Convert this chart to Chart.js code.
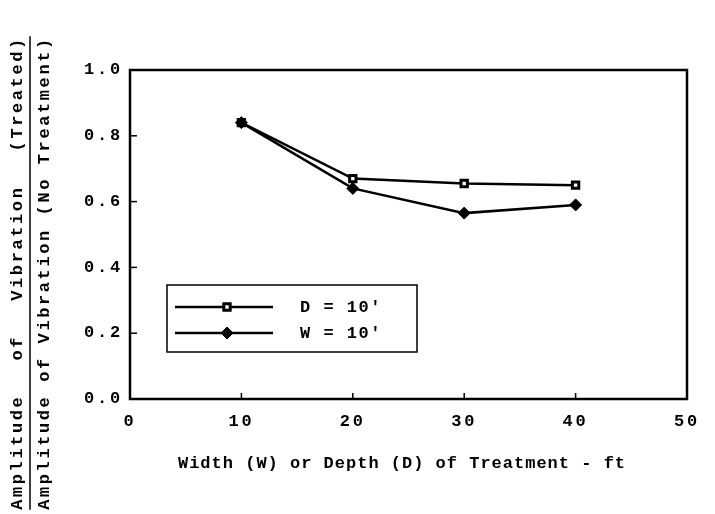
<!DOCTYPE html>
<html>
<head>
<meta charset="utf-8">
<script src="https://cdn.jsdelivr.net/npm/chart.js@4"></script>
<style>
  html, body { margin: 0; padding: 0; background: #fff; }
  .chart-container { width: 715px; height: 514px; position: relative; }
</style>
</head>
<body>
<div class="chart-container"><canvas id="chart"></canvas></div>
<script>
// values
const treatmentSize = [10, 20, 30, 40];          // width W or depth D, ft
const depthFixed = [0.84, 0.67, 0.655, 0.65];    // D = 10'
const widthFixed = [0.84, 0.64, 0.565, 0.59];    // W = 10'
const seriesLabels = ["D = 10'", "W = 10'"];
const xTitle = "Width (W) or Depth (D) of Treatment - ft";
const yTitleTop = ["Amplitude", "of", "Vibration", "(Treated)"];
const yTitleBottom = "Amplitude of Vibration (No Treatment)";

const FONT = "'Liberation Mono', 'DejaVu Sans Mono', monospace";
Chart.defaults.font.family = FONT;
Chart.defaults.color = "#000";

const toPoints = (vals) => treatmentSize.map((x, i) => ({ x: x, y: vals[i] }));

const paperPlugin = {
  id: "paper",
  beforeDraw(chart) {
    chart.ctx.letterSpacing = "2.8px";
  },
  afterDraw(chart) {
    const ctx = chart.ctx;
    const area = chart.chartArea;
    const xs = chart.scales.x;
    const ys = chart.scales.y;
    ctx.save();
    ctx.letterSpacing = "0px";
    ctx.strokeStyle = "#000";

    // frame
    ctx.lineWidth = 2.5;
    ctx.strokeRect(area.left, area.top, area.right - area.left, area.bottom - area.top);

    // inward ticks
    ctx.lineWidth = 1.5;
    ys.ticks.forEach((t) => {
      const py = ys.getPixelForValue(t.value);
      ctx.beginPath();
      ctx.moveTo(area.left, py);
      ctx.lineTo(area.left + 7, py);
      ctx.stroke();
    });
    xs.ticks.forEach((t) => {
      const px = xs.getPixelForValue(t.value);
      ctx.beginPath();
      ctx.moveTo(px, area.bottom);
      ctx.lineTo(px, area.bottom - 6);
      ctx.stroke();
    });

    // legend box
    const lx = 167, ly = 285, lw = 250, lh = 67;
    ctx.lineWidth = 1.5;
    ctx.strokeRect(lx, ly, lw, lh);
    chart.data.datasets.forEach((ds, i) => {
      const ry = ly + 22 + i * 26;
      ctx.lineWidth = ds.borderWidth;
      ctx.beginPath();
      ctx.moveTo(lx + 8, ry);
      ctx.lineTo(lx + 106, ry);
      ctx.stroke();
      ctx.fillStyle = ds.pointBackgroundColor;
      ctx.strokeStyle = ds.pointBorderColor;
      ctx.lineWidth = ds.pointBorderWidth;
      Chart.helpers.drawPoint(ctx, { pointStyle: ds.pointStyle, radius: ds.pointRadius, borderWidth: ds.pointBorderWidth, rotation: 0 }, lx + 60, ry);
      ctx.strokeStyle = "#000";
      ctx.fillStyle = "#000";
      ctx.font = "bold 17px " + FONT;
      ctx.letterSpacing = "1.5px";
      ctx.textAlign = "left";
      ctx.textBaseline = "middle";
      ctx.fillText(ds.label, lx + 133, ry + 1);
    });

    // x axis title
    ctx.font = "bold 17px " + FONT;
    ctx.letterSpacing = "1px";
    ctx.textAlign = "center";
    ctx.textBaseline = "middle";
    ctx.fillText(xTitle, 402, 464);

    // y axis title: fraction, numerator justified to denominator length
    ctx.letterSpacing = "2.6px";
    ctx.save();
    ctx.translate(0, 273);
    ctx.rotate(-Math.PI / 2);
    const span = ctx.measureText(yTitleBottom).width;
    ctx.textAlign = "left";
    ctx.fillText(yTitleBottom, -span / 2, 45);
    const widths = yTitleTop.map((w) => ctx.measureText(w).width);
    const gap = (span - widths.reduce((a, b) => a + b, 0)) / (yTitleTop.length - 1);
    let cx = -span / 2;
    yTitleTop.forEach((w, i) => {
      ctx.fillText(w, cx, 18);
      cx += widths[i] + gap;
    });
    ctx.lineWidth = 1.5;
    ctx.beginPath();
    ctx.moveTo(-span / 2, 30);
    ctx.lineTo(span / 2, 30);
    ctx.stroke();
    ctx.restore();

    ctx.restore();
  }
};

new Chart(document.getElementById("chart"), {
  type: "line",
  data: {
    datasets: [
      {
        label: seriesLabels[0],
        data: toPoints(depthFixed),
        borderColor: "#000",
        borderWidth: 2.5,
        pointStyle: "rect",
        pointRadius: 4.5,
        pointBorderWidth: 3,
        pointBackgroundColor: "#fff",
        pointBorderColor: "#000",
        tension: 0,
        fill: false,
        order: 2
      },
      {
        label: seriesLabels[1],
        data: toPoints(widthFixed),
        borderColor: "#000",
        borderWidth: 2.5,
        pointStyle: "rectRot",
        pointRadius: 6,
        pointBorderWidth: 1,
        pointBackgroundColor: "#000",
        pointBorderColor: "#000",
        tension: 0,
        fill: false,
        order: 1
      }
    ]
  },
  options: {
    responsive: true,
    maintainAspectRatio: false,
    animation: false,
    layout: { padding: { left: 0, top: 70, right: 28, bottom: 0 } },
    plugins: {
      legend: { display: false },
      tooltip: { enabled: false }
    },
    scales: {
      x: {
        type: "linear",
        min: 0,
        max: 50,
        grid: { display: false, drawTicks: false },
        border: { display: false },
        ticks: {
          stepSize: 10,
          padding: 13,
          font: { size: 17, weight: "bold" },
          maxRotation: 0
        },
        afterFit(scale) { scale.height = 115; }
      },
      y: {
        min: 0,
        max: 1,
        grid: { display: false, drawTicks: false },
        border: { display: false },
        ticks: {
          stepSize: 0.2,
          padding: 7,
          font: { size: 17, weight: "bold" },
          callback: (v) => v.toFixed(1)
        },
        afterFit(scale) { scale.width = 130; }
      }
    }
  },
  plugins: [paperPlugin]
});
</script>
</body>
</html>
